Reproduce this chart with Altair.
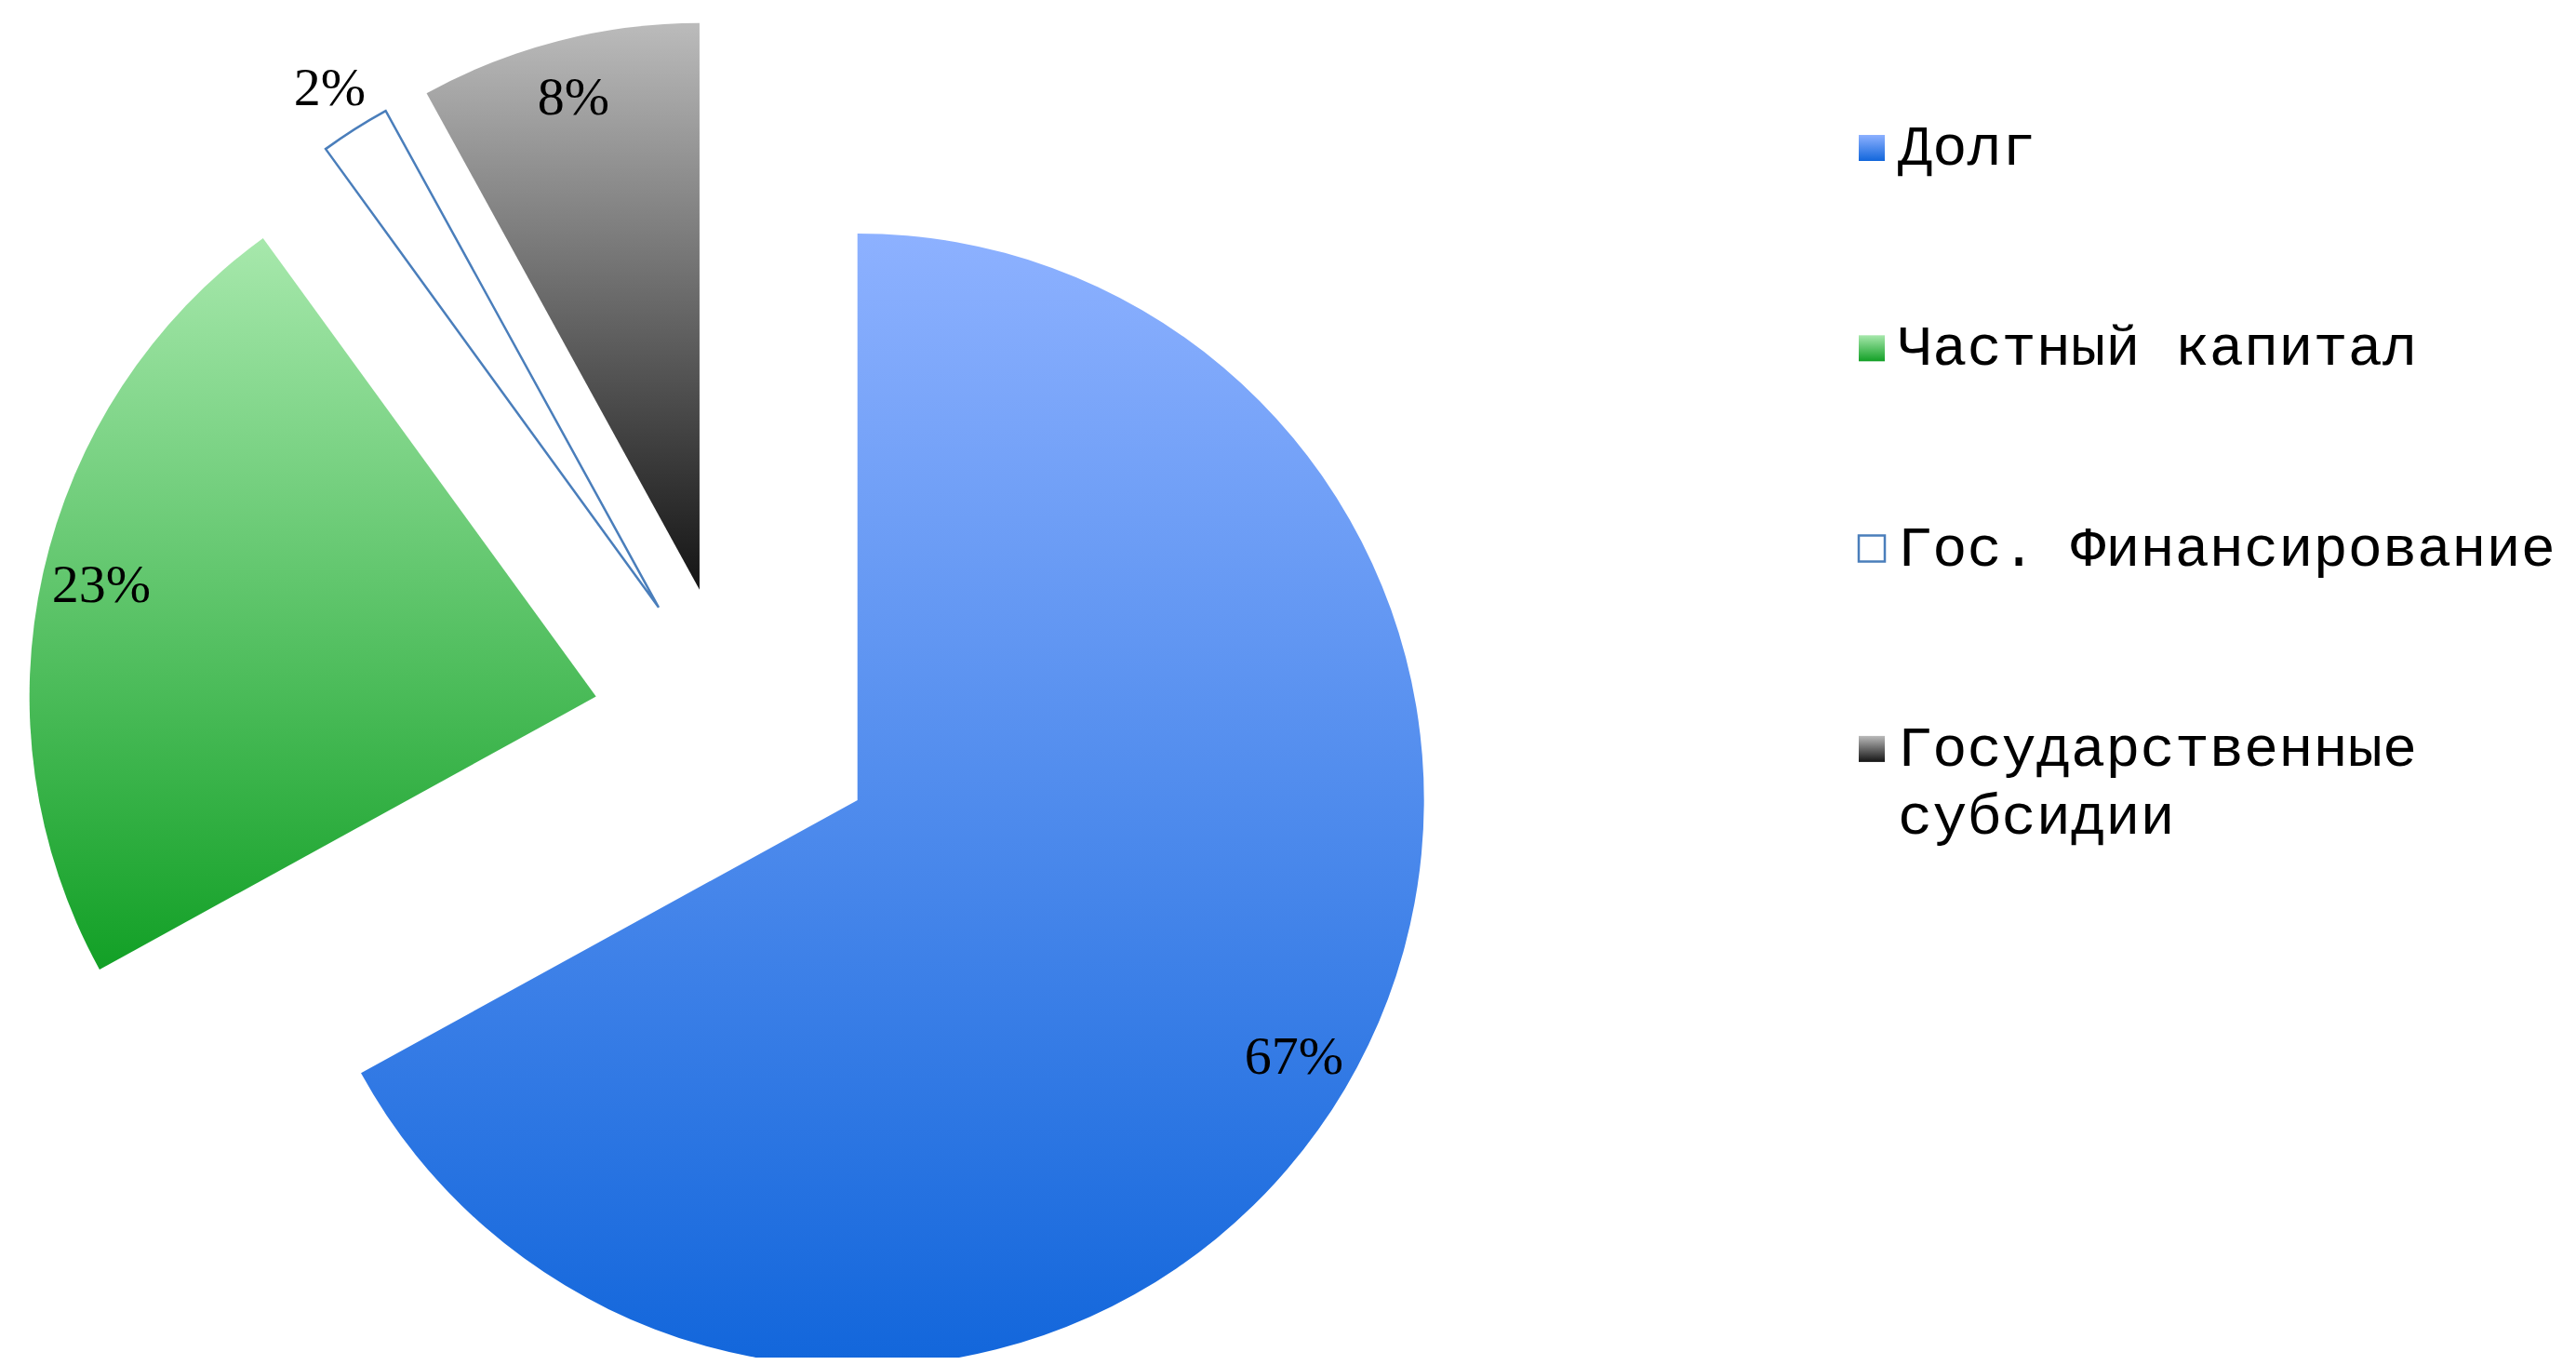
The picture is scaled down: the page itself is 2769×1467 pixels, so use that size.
import altair as alt
import pandas as pd

# ---- data ----
categories = ["Долг", "Частный капитал", "Гос. Финансирование", "Государственные субсидии"]
shares = [67, 23, 2, 8]
labels = ["67%", "23%", "2%", "8%"]

# ---- style ----
grad_colors = {
    "Долг": ("#8db1ff", "#1266db"),
    "Частный капитал": ("#a7e8ac", "#12a026"),
    "Государственные субсидии": ("#bbbbbb", "#141414"),
}
outline_cat = "Гос. Финансирование"
outline_color = "#4a7ebb"

CX, CY = 782, 774      # pie centre (px)
R = 609                # radius
E = 153                # explode distance
LX_SQ, LX_TXT = 2004, 2032
LY0, LDY = 151, 215.3


def grad(c0, c1):
    return alt.LinearGradient(
        gradient="linear",
        stops=[alt.GradientStop(color=c0, offset=0), alt.GradientStop(color=c1, offset=1)],
        x1=0, x2=0, y1=0, y2=1,
    ).to_dict()


fill_enc = alt.FillValue(
    value="#ffffff",
    condition=[
        {"test": f"datum.category === '{c}'", "value": grad(*cols)}
        for c, cols in grad_colors.items()
    ],
)
sw_enc = alt.condition(f"datum.category === '{outline_cat}'", alt.value(2.5), alt.value(0))

df = pd.DataFrame({"category": categories, "share": shares, "label": labels})

base = (
    alt.Chart(df)
    .transform_window(cum="sum(share)", idx="row_number()")
    .transform_calculate(
        t1="datum.cum / 100 * 2 * PI",
        t0="(datum.cum - datum.share) / 100 * 2 * PI",
    )
    .transform_calculate(mid="(datum.t0 + datum.t1) / 2")
    .transform_calculate(
        cx=f"{CX} + {E} * sin(datum.mid)",
        cy=f"{CY} - {E} * cos(datum.mid)",
        lr=f"datum.share < 5 ? {R + 51} : {R - 64}",
        ly=f"{LY0} + (datum.idx - 1) * {LDY}",
        legend_text="replace(datum.category, ' субсидии', '\\nсубсидии')",
    )
    .transform_calculate(
        tx="datum.cx + datum.lr * sin(datum.mid)",
        ty="datum.cy - datum.lr * cos(datum.mid)",
        lty="datum.ly + 18",
    )
)

arcs = base.mark_arc(radius=R, stroke=outline_color).encode(
    x=alt.X("cx:Q", scale=None),
    y=alt.Y("cy:Q", scale=None),
    theta=alt.Theta("t0:Q", scale=None, stack=None),
    theta2=alt.Theta2("t1:Q"),
    fill=fill_enc,
    strokeWidth=sw_enc,
)

pct = base.mark_text(
    font="Liberation Serif", fontSize=58, color="#000000", align="center", baseline="middle"
).encode(
    x=alt.X("tx:Q", scale=None),
    y=alt.Y("ty:Q", scale=None),
    text="label:N",
)

leg_sq = base.mark_square(size=784, stroke=outline_color, opacity=1).encode(
    x=alt.value(LX_SQ),
    y=alt.Y("ly:Q", scale=None),
    fill=fill_enc,
    strokeWidth=sw_enc,
)

leg_txt = base.mark_text(
    font="Liberation Mono", fontSize=62, color="#000000", align="left",
    baseline="alphabetic", lineBreak="\n", lineHeight=73,
).encode(
    x=alt.value(LX_TXT),
    y=alt.Y("lty:Q", scale=None),
    text="legend_text:N",
)

chart = (
    alt.layer(arcs, pct, leg_sq, leg_txt)
    .properties(width=2750, height=1451, padding=0, autosize="none", background="#ffffff")
    .configure_view(stroke=None)
)

chart.save("out.html", embed_options={"renderer": "svg", "actions": False})
